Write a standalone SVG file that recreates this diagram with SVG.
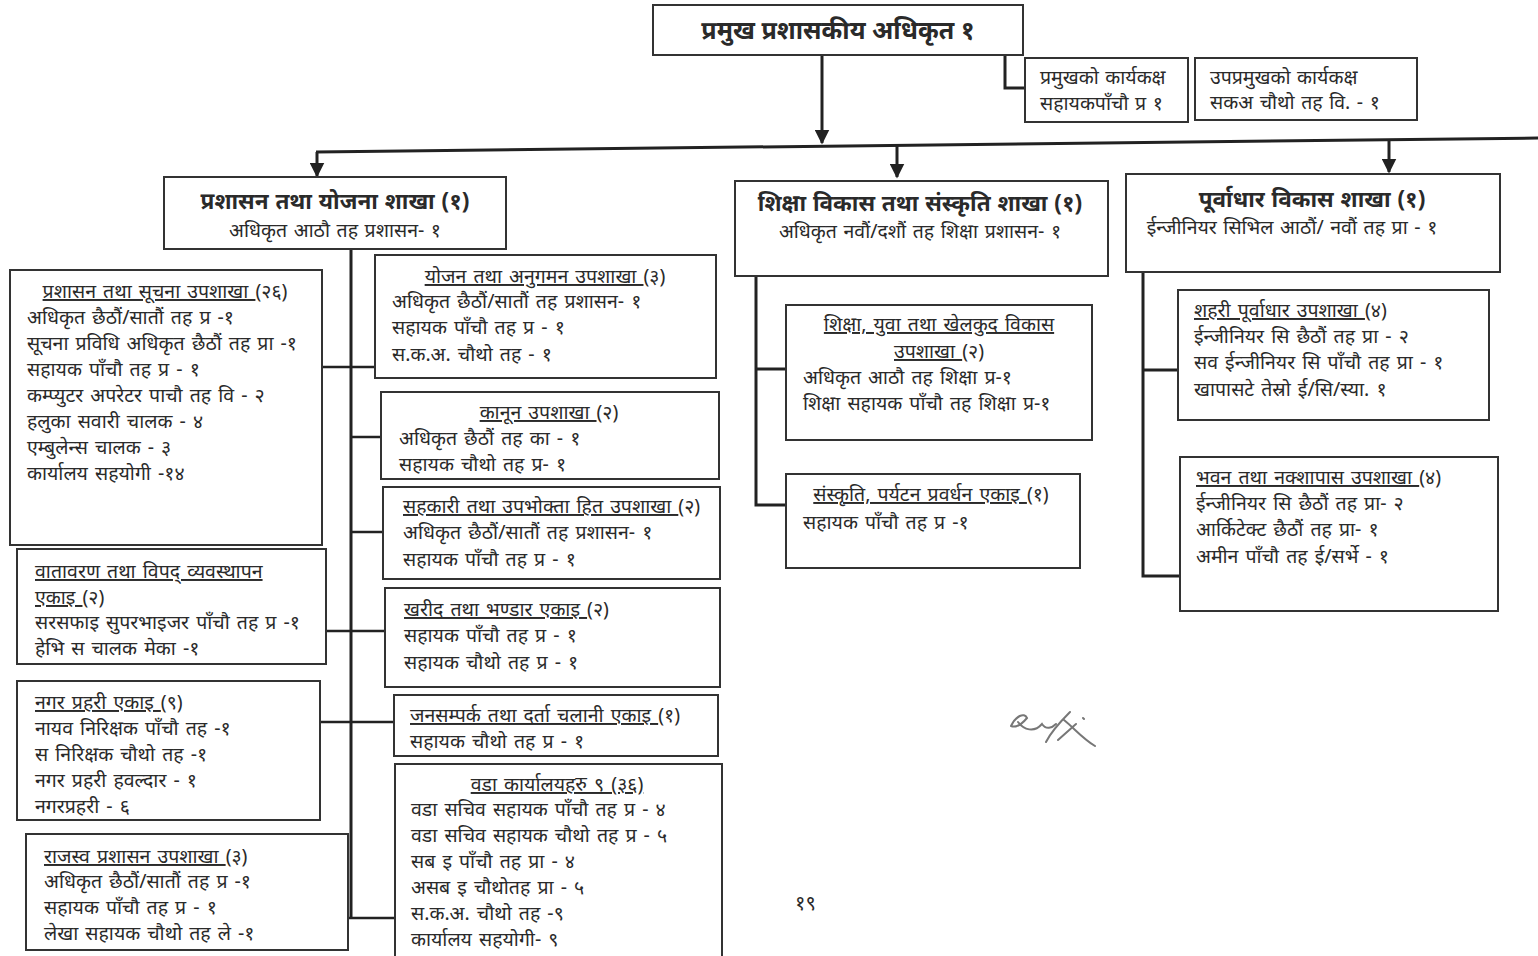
<svg xmlns="http://www.w3.org/2000/svg" width="1538" height="956" viewBox="0 0 1538 956">
<style>
text{font-family:"Noto Sans","DejaVu Sans","Liberation Sans",sans-serif;fill:#2a2a2a}
.b{fill:#fff;stroke:#333;stroke-width:2}
.t{font-size:19.5px;word-spacing:2px}
.h{font-size:22.5px;font-weight:bold;word-spacing:1px}
.top{font-size:25px;font-weight:bold}
.s{font-size:19.5px;word-spacing:1.5px}
.c{text-anchor:middle}
.u{text-decoration:underline}
.ln{stroke:#222;stroke-width:3;fill:none}
.ln2{stroke:#222;stroke-width:2.5;fill:none}
</style>
<defs>
<marker id="ar" viewBox="0 0 10 10" refX="9" refY="5" markerWidth="5" markerHeight="5" orient="auto">
<path d="M0,0 L10,5 L0,10 z" fill="#222"/>
</marker>
</defs>
<rect width="1538" height="956" fill="#fff"/>

<g id="connectors">
<line class="ln" x1="822" y1="55" x2="822" y2="143" marker-end="url(#ar)"/>
<line class="ln" x1="316" y1="152" x2="1538" y2="138"/>
<line class="ln" x1="317" y1="152" x2="317" y2="176" marker-end="url(#ar)"/>
<line class="ln" x1="897" y1="146" x2="897" y2="177" marker-end="url(#ar)"/>
<line class="ln" x1="1389" y1="141" x2="1389" y2="172" marker-end="url(#ar)"/>
<polyline class="ln" points="1005,55 1005,88 1025,88"/>
<line class="ln" x1="351" y1="249" x2="351" y2="918"/>
<line class="ln2" x1="322" y1="367" x2="375" y2="367"/>
<line class="ln2" x1="351" y1="437" x2="381" y2="437"/>
<line class="ln2" x1="351" y1="532" x2="383" y2="532"/>
<line class="ln2" x1="326" y1="631" x2="385" y2="631"/>
<line class="ln2" x1="320" y1="722" x2="394" y2="722"/>
<line class="ln2" x1="348" y1="918" x2="395" y2="918"/>
<polyline class="ln" points="756,276 756,505 786,505"/>
<line class="ln" x1="756" y1="369" x2="786" y2="369"/>
<polyline class="ln" points="1143,272 1143,576 1180,576"/>
<line class="ln" x1="1143" y1="370" x2="1178" y2="370"/>
</g>

<g id="n-top">
<rect class="b" x="653" y="5" width="370" height="50"/>
<text class="top c" x="838" y="39">प्रमुख प्रशासकीय अधिकृत १</text>
</g>
<g id="n-pramukh-office">
<rect class="b" x="1025" y="58" width="163" height="64"/>
<text class="s" x="1040" y="84">प्रमुखको कार्यकक्ष</text>
<text class="s" x="1040" y="110">सहायकपाँचौ प्र १</text>
</g>
<g id="n-uppramukh-office">
<rect class="b" x="1195" y="58" width="222" height="62"/>
<text class="s" x="1210" y="84">उपप्रमुखको कार्यकक्ष</text>
<text class="s" x="1210" y="109">सकअ चौथो तह वि. - १</text>
</g>

<g id="n-branch1">
<rect class="b" x="164" y="177" width="342" height="72"/>
<text class="h c" x="335" y="209">प्रशासन तथा योजना शाखा (१)</text>
<text class="s c" x="335" y="237">अधिकृत आठौ तह प्रशासन- १</text>
</g>
<g id="n-branch2">
<rect class="b" x="735" y="181" width="373" height="95"/>
<text class="h c" x="920" y="211">शिक्षा विकास तथा संस्कृति शाखा (१)</text>
<text class="s c" x="920" y="238">अधिकृत नवौं/दशौं तह शिक्षा प्रशासन- १</text>
</g>
<g id="n-branch3">
<rect class="b" x="1126" y="174" width="374" height="98"/>
<text class="h c" x="1312" y="207">पूर्वाधार विकास शाखा (१)</text>
<text class="s c" x="1292" y="234">ईन्जीनियर सिभिल आठौं/ नवौं तह प्रा - १</text>
</g>

<g id="n-prashasan-suchana">
<rect class="b" x="10" y="270" width="312" height="275"/>
<text class="t c" x="165" y="298"><tspan class="u">प्रशासन तथा सूचना उपशाखा </tspan>(२६)</text>
<text class="t" x="27" y="324">अधिकृत छैठौं/सातौं तह प्र -१</text>
<text class="t" x="27" y="350">सूचना प्रविधि अधिकृत छैठौं तह प्रा -१</text>
<text class="t" x="27" y="376">सहायक पाँचौ तह प्र - १</text>
<text class="t" x="27" y="402">कम्प्युटर अपरेटर पाचौ तह वि  - २</text>
<text class="t" x="27" y="428">हलुका सवारी चालक  - ४</text>
<text class="t" x="27" y="454">एम्बुलेन्स चालक  - ३</text>
<text class="t" x="27" y="480">कार्यालय सहयोगी -१४</text>
</g>
<g id="n-vatavaran">
<rect class="b" x="17" y="549" width="309" height="115"/>
<text class="t u" x="35" y="578">वातावरण तथा विपद् व्यवस्थापन</text>
<text class="t" x="35" y="604"><tspan class="u">एकाइ </tspan>(२)</text>
<text class="t" x="35" y="629">सरसफाइ सुपरभाइजर पाँचौ तह प्र -१</text>
<text class="t" x="35" y="655">हेभि स चालक मेका -१</text>
</g>
<g id="n-nagar-prahari">
<rect class="b" x="17" y="681" width="303" height="139"/>
<text class="t" x="35" y="709"><tspan class="u">नगर प्रहरी एकाइ </tspan>(९)</text>
<text class="t" x="35" y="735">नायव निरिक्षक पाँचौ तह  -१</text>
<text class="t" x="35" y="761">स निरिक्षक चौथो तह  -१</text>
<text class="t" x="35" y="787">नगर प्रहरी हवल्दार - १</text>
<text class="t" x="35" y="813">नगरप्रहरी - ६</text>
</g>
<g id="n-rajaswa">
<rect class="b" x="26" y="834" width="322" height="116"/>
<text class="t" x="44" y="863"><tspan class="u">राजस्व प्रशासन उपशाखा </tspan>(३)</text>
<text class="t" x="44" y="888">अधिकृत छैठौं/सातौं तह प्र -१</text>
<text class="t" x="44" y="914">सहायक पाँचौ तह प्र - १</text>
<text class="t" x="44" y="940">लेखा सहायक चौथो तह ले -१</text>
</g>

<g id="n-yojana">
<rect class="b" x="375" y="255" width="341" height="123"/>
<text class="t c" x="545" y="283"><tspan class="u">योजन तथा अनुगमन उपशाखा </tspan>(३)</text>
<text class="t" x="392" y="308">अधिकृत छैठौं/सातौं तह प्रशासन- १</text>
<text class="t" x="392" y="334">सहायक पाँचौ तह प्र - १</text>
<text class="t" x="392" y="361">स.क.अ. चौथो तह - १</text>
</g>
<g id="n-kanun">
<rect class="b" x="381" y="392" width="338" height="87"/>
<text class="t c" x="549" y="419"><tspan class="u">कानून उपशाखा </tspan>(२)</text>
<text class="t" x="399" y="445">अधिकृत छैठौं तह का - १</text>
<text class="t" x="399" y="471">सहायक चौथो तह प्र- १</text>
</g>
<g id="n-sahakari">
<rect class="b" x="383" y="487" width="337" height="92"/>
<text class="t" x="403" y="513"><tspan class="u">सहकारी तथा उपभोक्ता हित उपशाखा </tspan>(२)</text>
<text class="t" x="403" y="539">अधिकृत छैठौं/सातौं तह प्रशासन- १</text>
<text class="t" x="403" y="566">सहायक पाँचौ तह प्र  - १</text>
</g>
<g id="n-kharid">
<rect class="b" x="385" y="588" width="335" height="99"/>
<text class="t" x="404" y="616"><tspan class="u">खरीद तथा भण्डार एकाइ </tspan>(२)</text>
<text class="t" x="404" y="642">सहायक पाँचौ तह प्र  - १</text>
<text class="t" x="404" y="669">सहायक चौथो तह प्र  - १</text>
</g>
<g id="n-janasampark">
<rect class="b" x="394" y="695" width="324" height="61"/>
<text class="t" x="410" y="722"><tspan class="u">जनसम्पर्क तथा दर्ता चलानी एकाइ </tspan>(१)</text>
<text class="t" x="410" y="748">सहायक चौथो तह प्र -    १</text>
</g>
<g id="n-wada">
<rect class="b" x="395" y="764" width="327" height="194"/>
<text class="t c u" x="557" y="791">वडा कार्यालयहरु ९ (३६)</text>
<text class="t" x="411" y="816">वडा सचिव सहायक पाँचौ तह प्र - ४</text>
<text class="t" x="411" y="842">वडा सचिव सहायक चौथो तह प्र - ५</text>
<text class="t" x="411" y="868">सब इ पाँचौ तह प्रा - ४</text>
<text class="t" x="411" y="894">असब इ चौथोतह प्रा - ५</text>
<text class="t" x="411" y="920">स.क.अ. चौथो तह -९</text>
<text class="t" x="411" y="946">कार्यालय सहयोगी- ९</text>
</g>

<g id="n-shiksha-yuwa">
<rect class="b" x="786" y="305" width="306" height="135"/>
<text class="t c u" x="939" y="331">शिक्षा, युवा तथा खेलकुद विकास</text>
<text class="t c" x="939" y="358"><tspan class="u">उपशाखा </tspan>(२)</text>
<text class="t" x="803" y="384">अधिकृत आठौ तह शिक्षा प्र-१</text>
<text class="t" x="803" y="410">शिक्षा सहायक पाँचौ तह शिक्षा प्र-१</text>
</g>
<g id="n-sanskriti">
<rect class="b" x="786" y="474" width="294" height="94"/>
<text class="t c" x="931" y="501"><tspan class="u">संस्कृति, पर्यटन प्रवर्धन एकाइ </tspan>(१)</text>
<text class="t" x="803" y="529">सहायक पाँचौ तह प्र -१</text>
</g>

<g id="n-shahari">
<rect class="b" x="1178" y="290" width="311" height="130"/>
<text class="t" x="1194" y="317"><tspan class="u">शहरी पूर्वाधार उपशाखा  </tspan>(४)</text>
<text class="t" x="1194" y="343">ईन्जीनियर सि छैठौं तह प्रा - २</text>
<text class="t" x="1194" y="369">सव ईन्जीनियर सि पाँचौ तह प्रा - १</text>
<text class="t" x="1194" y="396">खापासटे तेस्रो  ई/सि/स्या. १</text>
</g>
<g id="n-bhawan">
<rect class="b" x="1180" y="457" width="318" height="154"/>
<text class="t" x="1196" y="484"><tspan class="u">भवन तथा नक्शापास उपशाखा </tspan>(४)</text>
<text class="t" x="1196" y="510">ईन्जीनियर सि छैठौं तह प्रा- २</text>
<text class="t" x="1196" y="536">आर्किटेक्ट छैठौं तह प्रा- १</text>
<text class="t" x="1196" y="563">अमीन पाँचौ तह ई/सर्भे - १</text>
</g>

<text x="795" y="910" style="font-size:20px">१९</text>
<path d="M1011,726 C1016,716 1024,712 1027,718 C1022,724 1016,728 1011,726 M1018,722 C1024,730 1034,733 1042,724 C1046,730 1052,728 1056,724 M1046,742 C1052,730 1062,720 1070,712 M1058,740 L1076,724 M1064,720 C1074,728 1082,738 1095,746 M1083,718 l1,1" stroke="#777" stroke-width="2" fill="none" stroke-linecap="round"/>
</svg>
